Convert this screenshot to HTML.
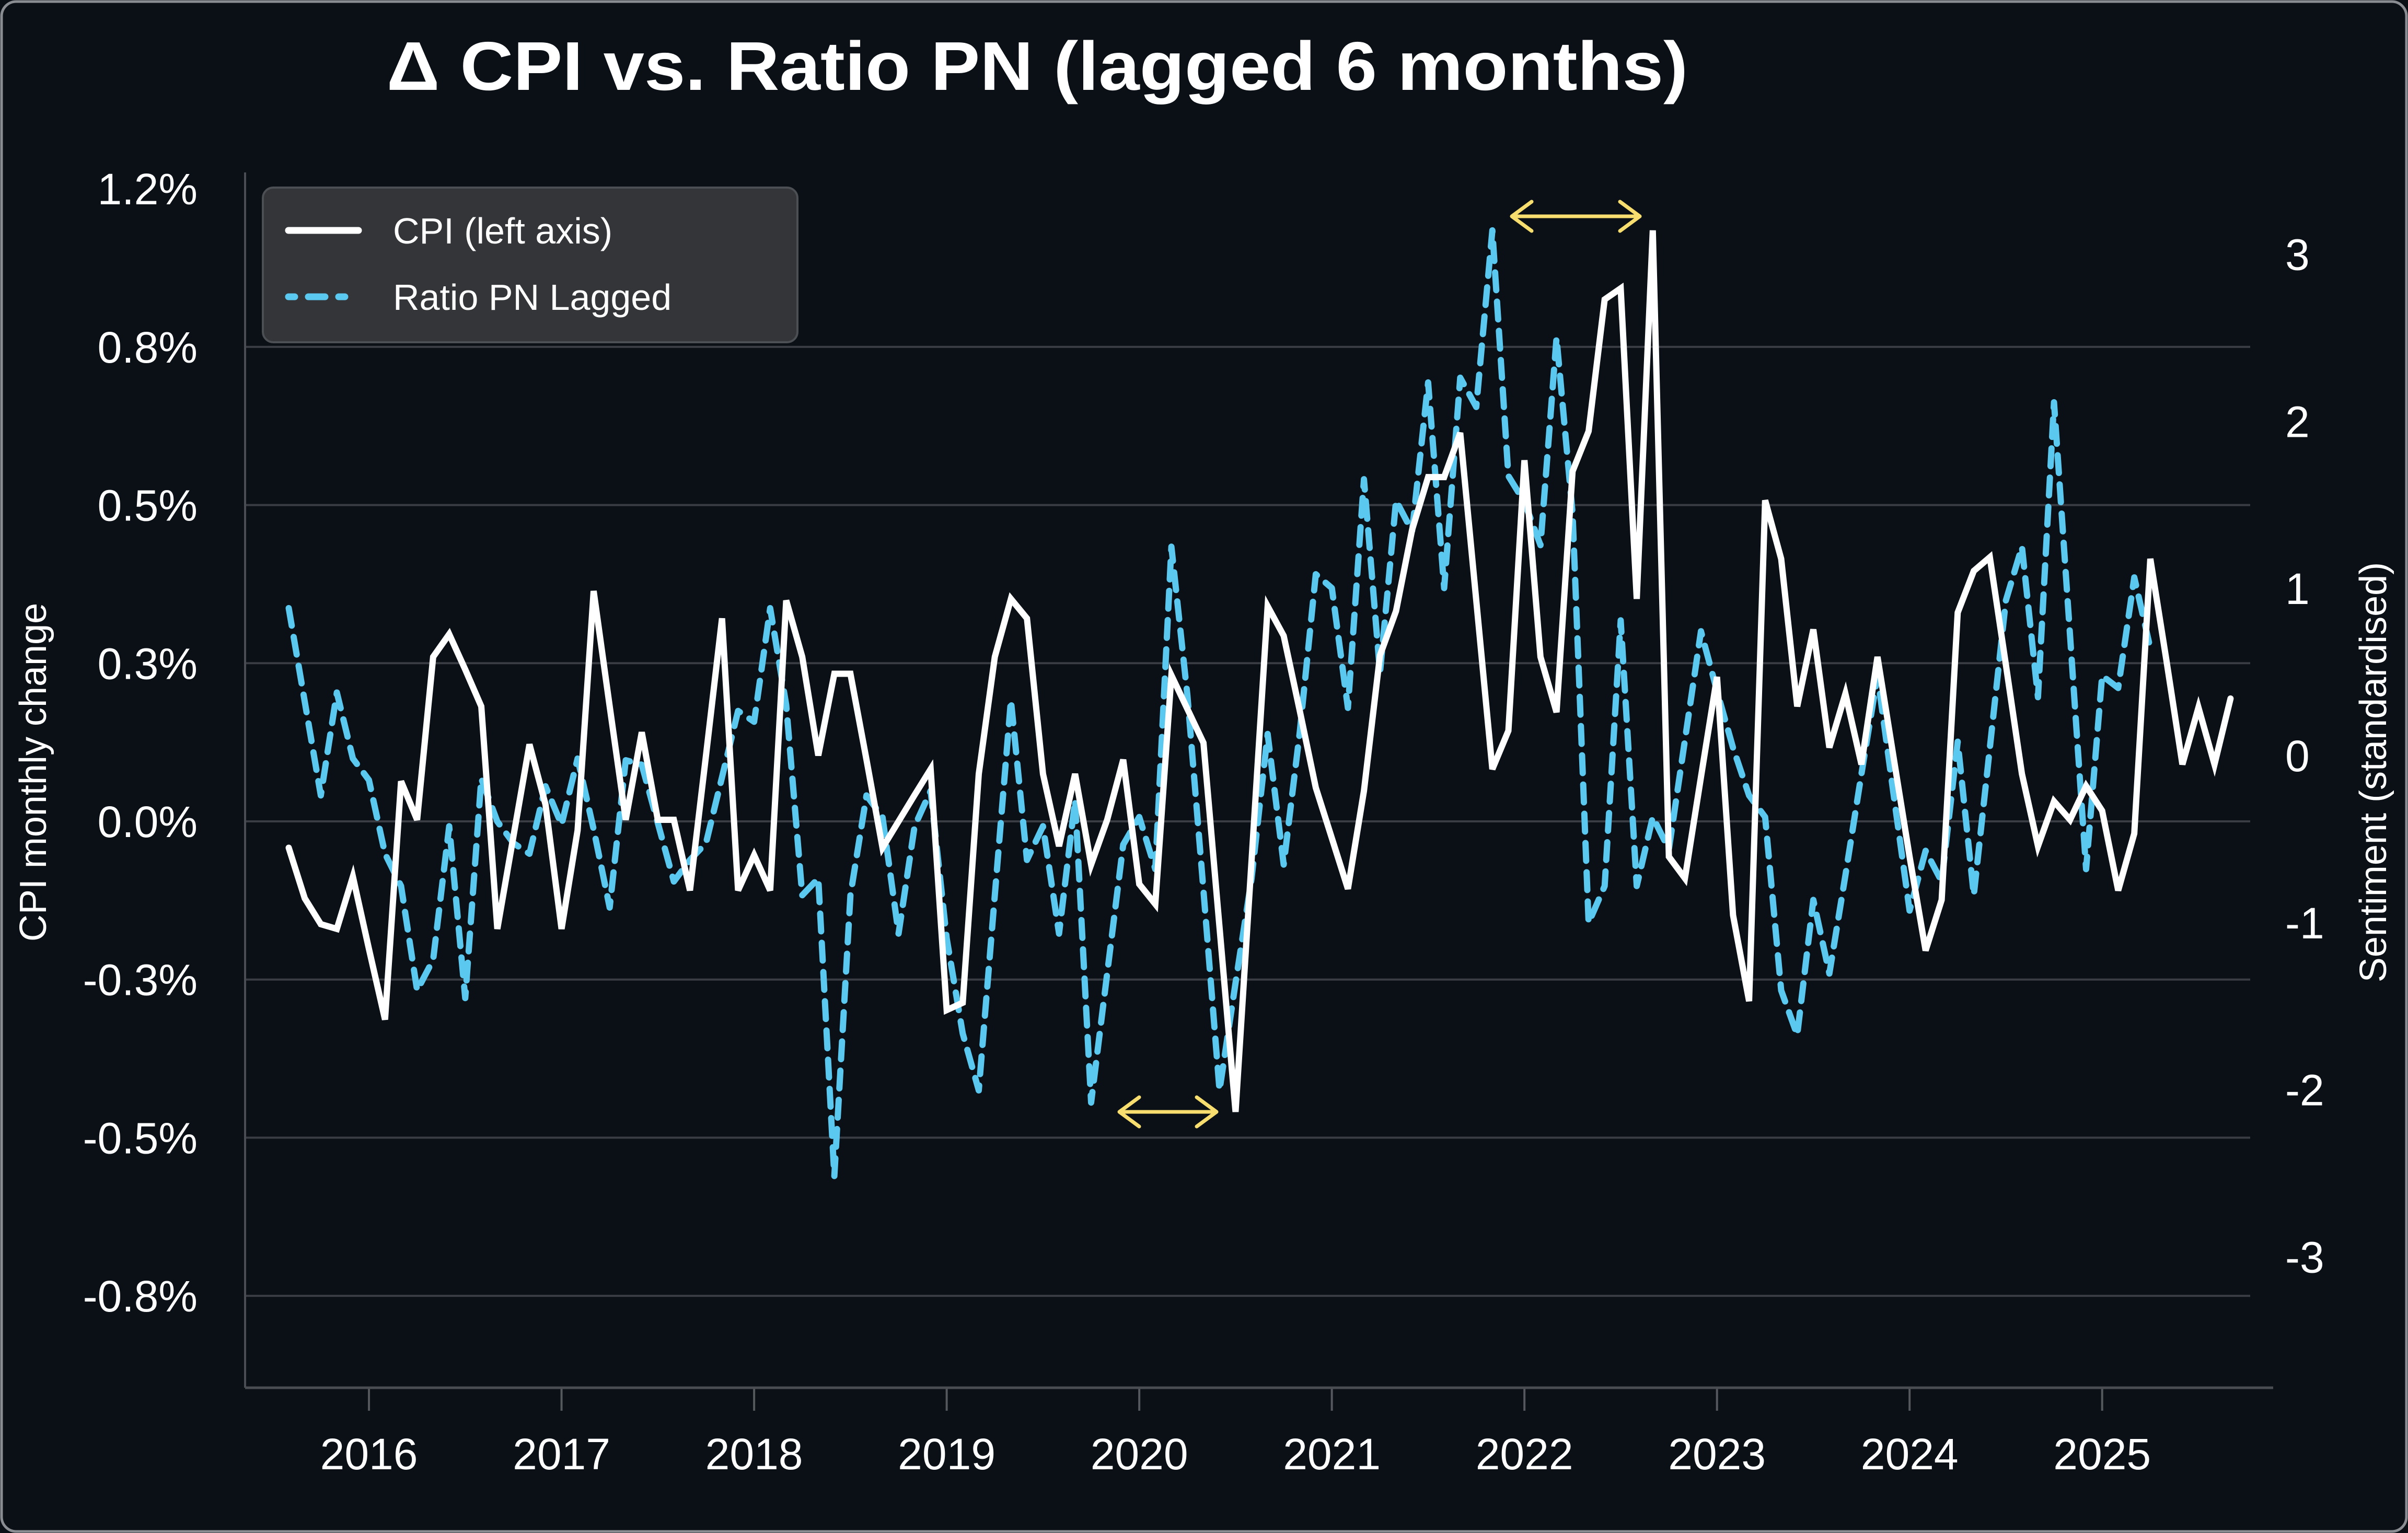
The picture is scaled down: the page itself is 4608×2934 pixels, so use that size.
<!DOCTYPE html>
<html><head><meta charset="utf-8"><style>
html,body{margin:0;padding:0;background:#0b1017;}
svg{display:block;}
text{font-family:"Liberation Sans",sans-serif;fill:#fff;}
</style></head><body>
<svg id="chart" xmlns="http://www.w3.org/2000/svg" width="4608" height="2934" viewBox="0 0 4608 2934">
<rect x="3" y="3" width="4602" height="2928" rx="28" fill="#0b1017" stroke="#8a8d92" stroke-width="5"/>
<text x="740" y="172" font-size="132" font-weight="bold" textLength="2490" lengthAdjust="spacingAndGlyphs">Δ CPI vs. Ratio PN (lagged 6 months)</text>
<g id="grid"></g>
<g id="axes"></g>
<g id="series"></g>
<g stroke="#f7de6e" stroke-width="7" fill="none" stroke-linecap="round" stroke-linejoin="round">
<path d="M2142 2128 L2328 2128 M2180 2100 L2142 2128 L2180 2156 M2290 2100 L2328 2128 L2290 2156"/>
</g>
<g stroke="#f7de6e" stroke-width="7" fill="none" stroke-linecap="round" stroke-linejoin="round">
<path d="M2893 414 L3138 414 M2931 386 L2893 414 L2931 442 M3100 386 L3138 414 L3100 442"/>
</g>
<g>
<rect x="503" y="359" width="1023" height="296" rx="20" fill="#333538" stroke="#4c4f54" stroke-width="4"/>
<g>
<line x1="552" y1="441" x2="686" y2="441" stroke="#fff" stroke-width="13" stroke-linecap="round"/>
<text x="752" y="466" font-size="70">CPI (left axis)</text>
</g>
<g>
<line x1="552" y1="568" x2="690" y2="568" stroke="#5bc8f0" stroke-width="13" stroke-linecap="round" stroke-dasharray="12 26 32 26 12 100"/>
<text x="752" y="593" font-size="70">Ratio PN Lagged</text>
</g>
</g>
<text transform="translate(88,1478) rotate(-90)" text-anchor="middle" font-size="72">CPI monthly change</text>
<text transform="translate(4566,1478) rotate(-90)" text-anchor="middle" font-size="72">Sentiment (standardised)</text>
</svg>
<script>
const cpiValues = [-0.050,-0.146,-0.195,-0.204,-0.105,-0.242,-0.376,0.076,0.003,0.312,0.355,0.288,0.218,-0.204,-0.029,0.146,0.032,-0.204,-0.017,0.437,0.218,0.003,0.169,0.003,0.003,-0.131,0.125,0.385,-0.131,-0.064,-0.131,0.419,0.312,0.125,0.280,0.280,0.117,-0.050,0,0.050,0.099,-0.358,-0.344,0.090,0.312,0.422,0.385,0.090,-0.047,0.090,-0.082,0.003,0.117,-0.119,-0.157,0.277,0.213,0.149,-0.201,-0.551,-0.073,0.408,0.352,0.210,0.064,-0.032,-0.128,0.058,0.315,0.399,0.553,0.653,0.653,0.737,0.419,0.099,0.172,0.685,0.312,0.207,0.664,0.740,0.990,1.011,0.422,1.121,-0.067,-0.108,0.084,0.274,-0.178,-0.341,0.609,0.498,0.218,0.364,0.140,0.242,0.108,0.312,0.122,-0.067,-0.245,-0.149,0.396,0.475,0.501,0.297,0.090,-0.047,0.038,0.003,0.067,0.020,-0.131,-0.023,0.498,0.306,0.108,0.216,0.108,0.233];
const ratioValues = [0.882,0.322,-0.239,0.377,-0.018,-0.147,-0.588,-0.781,-1.406,-1.222,-0.423,-1.452,-0.138,-0.395,-0.524,-0.588,-0.184,-0.414,-0.018,-0.441,-0.910,-0.028,-0.055,-0.404,-0.754,-0.625,-0.524,-0.129,0.267,0.202,0.882,0.303,-0.836,-0.735,-2.518,-0.836,-0.239,-0.368,-1.066,-0.423,-0.211,-1.094,-1.664,-2.004,-0.836,0.331,-0.625,-0.423,-1.066,-0.267,-2.077,-1.305,-0.533,-0.368,-0.680,1.250,0.358,-0.809,-2.004,-1.360,-0.735,0.129,-0.653,0.138,1.085,1.002,0.285,1.654,0.496,1.526,1.342,2.233,1.002,2.261,2.086,3.143,1.673,1.517,1.259,2.500,1.452,-1.002,-0.781,0.809,-0.781,-0.368,-0.561,0.092,0.744,0.386,0.046,-0.239,-0.368,-1.406,-1.673,-0.864,-1.305,-0.717,-0.110,0.478,-0.230,-0.928,-0.570,-0.754,0.083,-0.836,0.046,0.928,1.250,0.349,2.114,0.717,-0.680,0.478,0.404,1.066,0.643];
const startYear = 2015, startMonth = 8; // first observation: Aug 2015
const leftTickValues = [1.2,0.9,0.6,0.3,0,-0.3,-0.6,-0.9];
const leftTickLabels = ['1.2%','0.8%','0.5%','0.3%','0.0%','-0.3%','-0.5%','-0.8%'];
const rightTickValues = [3,2,1,0,-1,-2,-3];
const rightTickLabels = ['3','2','1','0','-1','-2','-3'];
const xTickYears = [2016,2017,2018,2019,2020,2021,2022,2023,2024,2025];

const NS='http://www.w3.org/2000/svg';
function monthIndex(y,m){return (y-startYear)*12+(m-startMonth);}
function xScale(i){return 552.5+30.71*i;}
function yLeft(v){return 1572 - v/0.3*302.7;}
function yRight(v){return 1446 - v*319.8;}
function mk(tag,parent){const e=document.createElementNS(NS,tag);parent.appendChild(e);return e;}

const grid=document.getElementById('grid');
const axes=document.getElementById('axes');
const series=document.getElementById('series');

leftTickValues.forEach((v,k)=>{
  const y=yLeft(v);
  if(k>0){
    const g=mk('line',grid);
    
    
    g.setAttribute('x1',469);g.setAttribute('x2',4306);g.setAttribute('y1',y);g.setAttribute('y2',y);
    g.setAttribute('stroke','#3a3d43');g.setAttribute('stroke-width',4);
  }
  const t=mk('text',axes);
  
  
  t.setAttribute('x',378);t.setAttribute('y',y+30);t.setAttribute('text-anchor','end');t.setAttribute('font-size',84);
  t.textContent=leftTickLabels[k];
});
rightTickValues.forEach((v,k)=>{
  const t=mk('text',axes);
  
  
  t.setAttribute('x',4373);t.setAttribute('y',yRight(v)+30);t.setAttribute('font-size',84);
  t.textContent=rightTickLabels[k];
});
xTickYears.forEach(yr=>{
  const x=xScale(monthIndex(yr,1));
  const tk=mk('line',axes);
  
  
  tk.setAttribute('x1',x);tk.setAttribute('x2',x);tk.setAttribute('y1',2656);tk.setAttribute('y2',2700);
  tk.setAttribute('stroke','#55585d');tk.setAttribute('stroke-width',4);
  const t=mk('text',axes);
  
  
  t.setAttribute('x',x);t.setAttribute('y',2812);t.setAttribute('text-anchor','middle');t.setAttribute('font-size',84);
  t.textContent=String(yr);
});
const spL=mk('line',axes);


spL.setAttribute('x1',469);spL.setAttribute('x2',469);spL.setAttribute('y1',330);spL.setAttribute('y2',2656);
spL.setAttribute('stroke','#4a4d52');spL.setAttribute('stroke-width',4);
const spB=mk('line',axes);


spB.setAttribute('x1',469);spB.setAttribute('x2',4350);spB.setAttribute('y1',2656);spB.setAttribute('y2',2656);
spB.setAttribute('stroke','#4a4d52');spB.setAttribute('stroke-width',5);

const rp=mk('path',series);


rp.setAttribute('d',ratioValues.map((v,i)=>(i?'L':'M')+xScale(i).toFixed(1)+' '+yRight(v).toFixed(1)).join(' '));
rp.setAttribute('fill','none');rp.setAttribute('stroke','#5bc8f0');rp.setAttribute('stroke-width',12);
rp.setAttribute('stroke-dasharray','34 22');rp.setAttribute('stroke-linecap','round');rp.setAttribute('stroke-linejoin','round');

const cp=mk('path',series);


cp.setAttribute('d',cpiValues.map((v,i)=>(i?'L':'M')+xScale(i).toFixed(1)+' '+yLeft(v).toFixed(1)).join(' '));
cp.setAttribute('fill','none');cp.setAttribute('stroke','#ffffff');cp.setAttribute('stroke-width',12);
cp.setAttribute('stroke-linejoin','miter');cp.setAttribute('stroke-linecap','round');
</script>
</body></html>
